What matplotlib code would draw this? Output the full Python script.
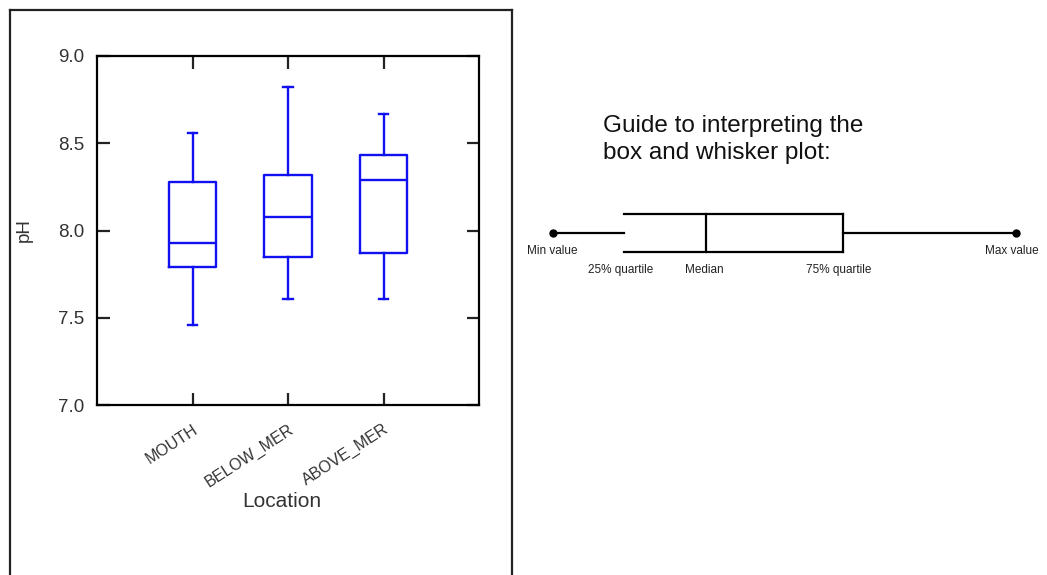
import matplotlib

matplotlib.use("Agg")
import matplotlib.pyplot as plt
from matplotlib.lines import Line2D

plt.rcParams["font.family"] = ["Liberation Sans", "DejaVu Sans"]

# box plot statistics
locations = ["MOUTH", "BELOW_MER", "ABOVE_MER"]
ph_min = [7.46, 7.61, 7.61]
ph_q1 = [7.79, 7.85, 7.87]
ph_median = [7.93, 8.08, 8.29]
ph_q3 = [8.28, 8.32, 8.43]
ph_max = [8.56, 8.82, 8.67]
y_ticks = [7.0, 7.5, 8.0, 8.5, 9.0]

# guide diagram (arbitrary horizontal scale)
guide_values = [553, 624, 706, 843, 1016]  # min, q1, median, q3, max
guide_labels = ["Min value", "25% quartile", "Median", "75% quartile", "Max value"]

W, H = 1047, 575
BLUE = "#1010f0"


def fx(px):
    return px / W


def fy(py):
    return 1 - py / H


fig = plt.figure(figsize=(W / 100, H / 100), dpi=100)
fig.patch.set_facecolor("white")

# outer frame around the chart panel (bottom runs off the image)
frame_kw = dict(color="#222222", linewidth=1.6, transform=fig.transFigure)
fig.add_artist(Line2D([fx(10), fx(10)], [fy(10), 0], **frame_kw))
fig.add_artist(Line2D([fx(10), fx(512)], [fy(10), fy(10)], **frame_kw))
fig.add_artist(Line2D([fx(512), fx(512)], [fy(10), 0], **frame_kw))

ax = fig.add_axes([fx(97), fy(405), (479 - 97) / W, (405 - 56) / H])
stats = []
for i, name in enumerate(locations):
    stats.append(dict(label=name, whislo=ph_min[i], q1=ph_q1[i], med=ph_median[i],
                      q3=ph_q3[i], whishi=ph_max[i], fliers=[]))
positions = list(range(1, len(locations) + 1))
line = dict(color=BLUE, linewidth=1.7)
ax.bxp(stats, positions=positions, widths=0.5, capwidths=0.1, showfliers=False,
       boxprops=line, whiskerprops=line, capprops=line, medianprops=line)

ax.set_xlim(0, 4)
ax.set_ylim(7.0, 9.0)
ax.set_yticks(y_ticks)
ax.set_yticklabels([f"{v:.1f}" for v in y_ticks])
ax.set_xticks(positions)
ax.set_xticklabels(locations, rotation=33, ha="right", va="top", rotation_mode="anchor")
for spine in ax.spines.values():
    spine.set_linewidth(1.6)
ax.tick_params(direction="in", length=9, width=1.6, top=True, right=True, colors="#222222")
ax.tick_params(axis="y", labelsize=13.5, pad=9, labelcolor="#333333")
ax.tick_params(axis="x", labelsize=11.5, pad=12, labelcolor="#333333")
ax.set_ylabel("pH", fontsize=13.5, color="#333333")
ax.yaxis.set_label_coords(-0.1675, 0.5)
ax.set_xlabel("Location", fontsize=15, color="#333333")
ax.xaxis.set_label_coords(0.484, -0.25)

# guide to interpreting the box plot
fig.text(fx(603), fy(115), "Guide to interpreting the\nbox and whisker plot:",
         fontsize=17.5, va="top", ha="left", linespacing=1.3, color="#111111")

gx = fig.add_axes([0, 0, 1, 1])
gx.set_xlim(0, W)
gx.set_ylim(H, 0)
gx.axis("off")
gx.patch.set_alpha(0)
vmin, q1, med, q3, vmax = guide_values
kw = dict(color="black", linewidth=1.6)
gx.plot([vmin, q1], [233, 233], **kw)
gx.plot([q3, vmax], [233, 233], **kw)
gx.plot([q1, q3], [214, 214], **kw)
gx.plot([q1, q3], [252, 252], **kw)
gx.plot([q3, q3], [214, 252], **kw)
gx.plot([med, med], [214, 252], **kw)
gx.plot([vmin, vmax], [233, 233], linestyle="none", marker="o", markersize=5, color="black")
label_pos = [(527, 251), (588, 270), (685, 270), (806, 270), (985, 251)]
for (lx, ly), text in zip(label_pos, guide_labels):
    gx.text(lx, ly, text, fontsize=8.5, ha="left", va="center", color="#222222")

fig.savefig("out.png", dpi=100, facecolor="white")
